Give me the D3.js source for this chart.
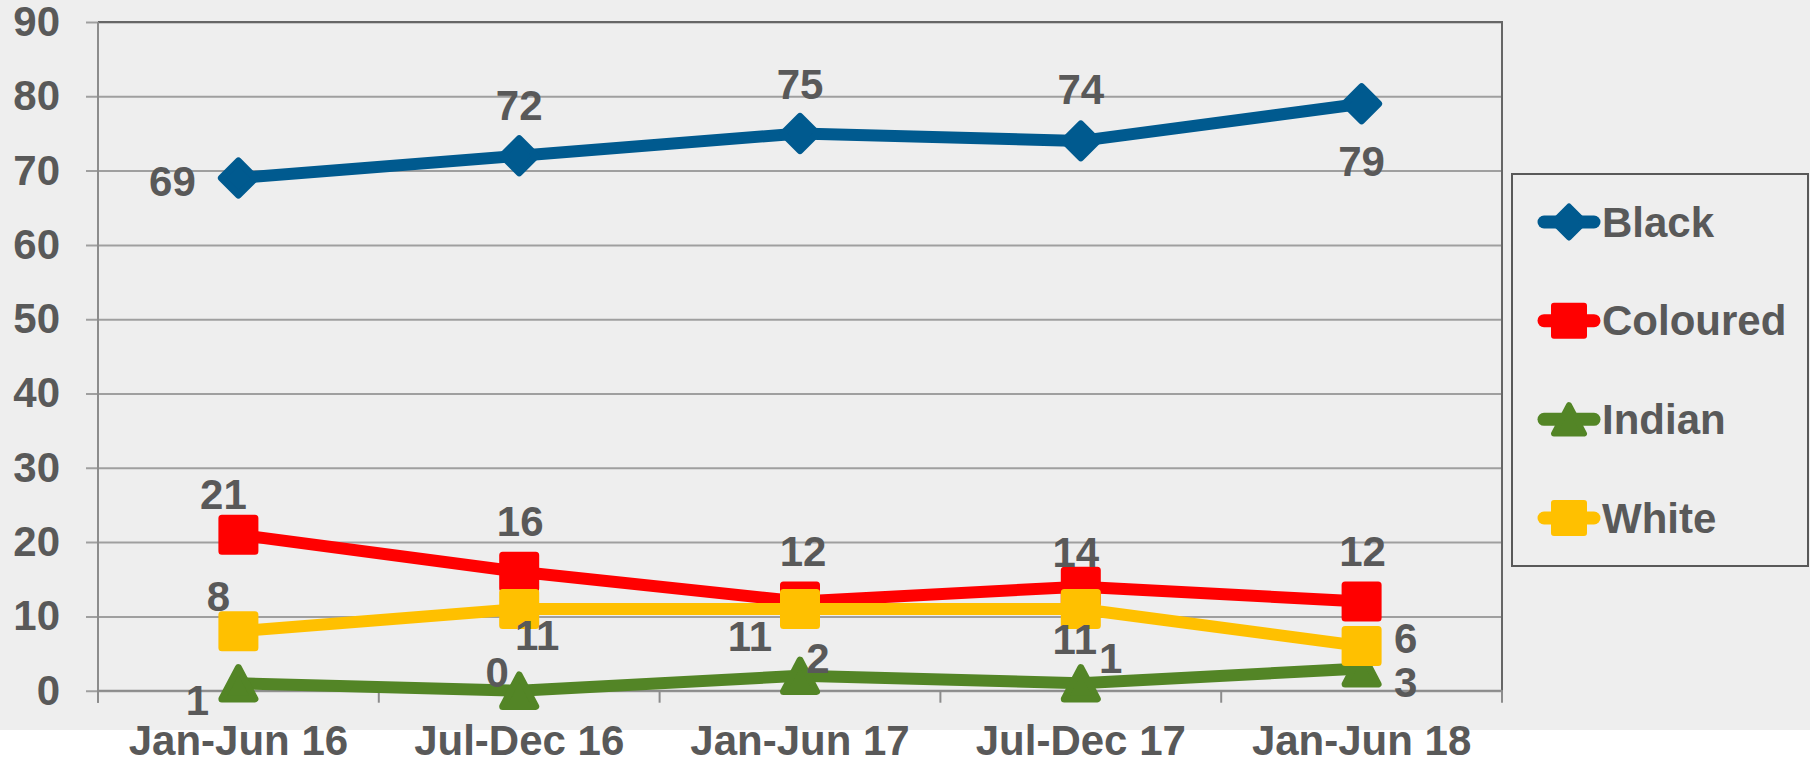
<!DOCTYPE html>
<html>
<head>
<meta charset="utf-8">
<script src="https://cdn.jsdelivr.net/npm/d3@7"></script>
<style>
  html, body { margin: 0; padding: 0; background: #fff; }
  svg { display: block; font-family: "Liberation Sans", Arial, sans-serif; }
</style>
</head>
<body>
<svg id="chart" width="1810" height="762"></svg>
<script>
//
// Data
//
const periods = ["Jan-Jun 16", "Jul-Dec 16", "Jan-Jun 17", "Jul-Dec 17", "Jan-Jun 18"]
const yTicks = [0, 10, 20, 30, 40, 50, 60, 70, 80, 90]
const seriesNames = ["Black", "Coloured", "Indian", "White"]
const black = [69, 72, 75, 74, 79]
const coloured = [21, 16, 12, 14, 12]
const indian = [1, 0, 2, 1, 3]
const white = [8, 11, 11, 11, 6]

//
// Configuration
//
const W = 1810, H = 762
const plot = { left: 98, right: 1502, top: 22, bottom: 690.7 }
const textColor = "#595959"
const fontSize = 42
const colors = { Black: "#005a8f", Coloured: "#ff0000", Indian: "#538526", White: "#ffc000" }
const shapes = { Black: "diamond", Coloured: "square", Indian: "triangle", White: "square" }
// where each value label sits, relative to its point [dx, dy]
const labelOffsets = {
  Black:    [[-66, 3], [0, -50], [0, -49], [0, -51], [0, 58]],
  Coloured: [[-15, -40], [1, -50], [3, -50], [-5, -34], [1, -50]],
  Indian:   [[-41, 17], [-22, -18], [18, -17], [30, -25], [44, 14]],
  White:    [[-20, -35], [18, 27], [-50, 28], [-6, 31], [44, -8]]
}

const seriesValues = { Black: black, Coloured: coloured, Indian: indian, White: white }

// custom marker shapes (size = half width of the shape)
const markerTypes = {
  diamond: { draw(ctx, s) { ctx.moveTo(0, -s); ctx.lineTo(s, 0); ctx.lineTo(0, s); ctx.lineTo(-s, 0); ctx.closePath() } },
  square: { draw(ctx, s) { ctx.moveTo(-s, -s); ctx.lineTo(s, -s); ctx.lineTo(s, s); ctx.lineTo(-s, s); ctx.closePath() } },
  triangle: { draw(ctx, s) { ctx.moveTo(0, -s * 0.95); ctx.lineTo(s, s * 0.95); ctx.lineTo(-s, s * 0.95); ctx.closePath() } }
}
const markerSize = { diamond: 17, square: 16.5, triangle: 16.5 }

//
// Scales
//
const svg = d3.select("#chart")

const x = d3.scaleBand().domain(periods).range([plot.left, plot.right])
const y = d3.scaleLinear().domain([0, 90]).range([plot.bottom, plot.top])

// backgrounds
svg.append("rect").attr("width", W).attr("height", H).attr("fill", "#ffffff")
svg.append("rect").attr("width", W).attr("height", 730).attr("fill", "#eeeeee")

//
// Axes
//
const yAxis = svg.append("g")
  .attr("transform", `translate(${plot.left},0)`)
  .call(d3.axisLeft(y).tickValues(yTicks).tickSizeInner(-(plot.right - plot.left)).tickSizeOuter(0).tickPadding(38))
yAxis.select(".domain").remove()
yAxis.selectAll(".tick line").attr("x1", -12).attr("stroke", "#9f9f9f").attr("stroke-width", 2)
yAxis.selectAll(".tick text")
  .attr("fill", textColor).attr("font-size", fontSize).attr("font-weight", "bold")
  .attr("font-family", "Liberation Sans, Arial, sans-serif")

// plot frame (top and right)
svg.append("path")
  .attr("d", `M${plot.left},${plot.top}H${plot.right}V${plot.bottom}`)
  .attr("fill", "none").attr("stroke", "#666").attr("stroke-width", 2)

// y axis line
svg.append("line")
  .attr("x1", plot.left).attr("x2", plot.left).attr("y1", plot.top).attr("y2", plot.bottom + 12)
  .attr("stroke", "#8c8c8c").attr("stroke-width", 2)

const xAxis = svg.append("g")
  .attr("transform", `translate(0,${plot.bottom})`)
  .call(d3.axisBottom(x).tickSize(0).tickPadding(34))
xAxis.select(".domain").remove()
xAxis.selectAll(".tick text")
  .attr("fill", textColor).attr("font-size", fontSize).attr("font-weight", "bold")
  .attr("font-family", "Liberation Sans, Arial, sans-serif")

// tick marks between categories
const boundaries = d3.range(periods.length + 1).map(i => plot.left + i * x.step())
xAxis.selectAll(".bound").data(boundaries).enter().append("line")
  .attr("class", "bound")
  .attr("x1", d => d).attr("x2", d => d).attr("y1", 0).attr("y2", 12)
  .attr("stroke", "#8c8c8c").attr("stroke-width", 2)
xAxis.append("line")
  .attr("x1", plot.left).attr("x2", plot.right).attr("y1", 0).attr("y2", 0)
  .attr("stroke", "#8c8c8c").attr("stroke-width", 2)

//
// Series
//
const line = d3.line().x((d, i) => x(periods[i]) + x.bandwidth() / 2).y(d => y(d))

seriesNames.forEach(function(name) {
  const vals = seriesValues[name]
  const g = svg.append("g").attr("class", "series")
  g.append("path")
    .attr("d", line(vals))
    .attr("fill", "none").attr("stroke", colors[name]).attr("stroke-width", 12)
    .attr("stroke-linejoin", "round").attr("stroke-linecap", "round")
  const sym = d3.symbol().type(markerTypes[shapes[name]]).size(markerSize[shapes[name]])
  g.selectAll(".marker").data(vals).enter().append("path")
    .attr("class", "marker")
    .attr("d", sym)
    .attr("transform", (d, i) => `translate(${x(periods[i]) + x.bandwidth() / 2},${y(d)})`)
    .attr("fill", colors[name]).attr("stroke", colors[name]).attr("stroke-width", 7)
    .attr("stroke-linejoin", "round")
})

// value labels on top
seriesNames.forEach(function(name) {
  const vals = seriesValues[name]
  svg.append("g").selectAll("text").data(vals).enter().append("text")
    .attr("x", (d, i) => x(periods[i]) + x.bandwidth() / 2 + labelOffsets[name][i][0])
    .attr("y", (d, i) => y(d) + labelOffsets[name][i][1])
    .attr("text-anchor", "middle").attr("dominant-baseline", "central")
    .attr("fill", textColor).attr("font-size", fontSize).attr("font-weight", "bold")
    .text(d => d)
})

//
// Legend
//
const legend = svg.append("g")
legend.append("rect")
  .attr("x", 1512).attr("y", 174).attr("width", 296).attr("height", 392)
  .attr("fill", "#eeeeee").attr("stroke", "#595959").attr("stroke-width", 2)

const legendRow = d3.scalePoint().domain(seriesNames).range([222, 518])
seriesNames.forEach(function(name) {
  const row = legend.append("g").attr("transform", `translate(0,${legendRow(name)})`)
  row.append("line")
    .attr("x1", 1544).attr("x2", 1594).attr("y1", 0).attr("y2", 0)
    .attr("stroke", colors[name]).attr("stroke-width", 13).attr("stroke-linecap", "round")
  row.append("path")
    .attr("d", d3.symbol().type(markerTypes[shapes[name]]).size(markerSize[shapes[name]] - 1.5))
    .attr("transform", "translate(1569,0)")
    .attr("fill", colors[name]).attr("stroke", colors[name]).attr("stroke-width", 6)
    .attr("stroke-linejoin", "round")
  row.append("text")
    .attr("x", 1602).attr("y", 0).attr("dominant-baseline", "central")
    .attr("fill", textColor).attr("font-size", fontSize).attr("font-weight", "bold")
    .text(name)
})
</script>
</body>
</html>
